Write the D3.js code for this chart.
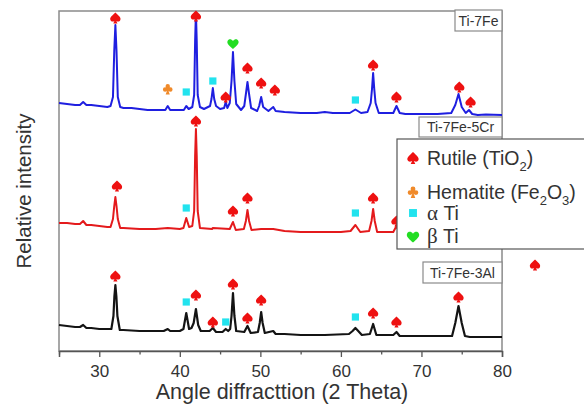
<!DOCTYPE html>
<html><head><meta charset="utf-8">
<script src="https://cdn.jsdelivr.net/npm/d3@7"></script>
<style>body{margin:0;background:#fff}svg{display:block}</style>
</head><body>
<svg id="c" width="584" height="409"></svg>
<script>
// ---- data (2θ in degrees, relative intensity in arbitrary units) ----
const xTicks = [30, 40, 50, 60, 70, 80];
const xMinorTicks = [25, 35, 45, 55, 65, 75];
const seriesNames = ["Ti-7Fe", "Ti-7Fe-5Cr", "Ti-7Fe-3Al"];

const ti7Fe = [[25,248],[26,247],[27,246],[27.6,246],[28,249],[28.4,246],[29,246],[30,245],[31,244],[31.4,245],[31.7,254],[31.86,300],[32,326],[32.14,300],[32.3,254],[32.6,244],[33,243],[34,243],[35,242],[36,241],[37,241],[38.2,241],[38.5,245],[38.8,241],[39.5,241],[40.5,241],[40.8,245],[41.1,242],[41.55,244],[41.78,256],[41.9,310],[42,339],[42.1,310],[42.22,256],[42.5,244],[43,242],[43.75,245],[43.93,252],[44.1,263],[44.27,252],[44.5,245],[45,242],[45.5,243],[45.7,249],[45.9,243],[46.2,248],[46.42,270],[46.6,299],[46.78,270],[47,247],[47.6,241],[48,245],[48.22,258],[48.4,269],[48.58,258],[48.85,243],[49.6,240],[49.85,245],[50.1,254],[50.35,244],[51,240],[51.3,242],[51.6,244],[51.9,240],[53,239],[55,238],[57,238],[58,239],[59,238],[61.1,238],[61.8,241.5],[62.5,238],[63.3,239],[63.7,248],[63.86,262],[64,278],[64.14,262],[64.3,248],[64.7,238],[66.5,238],[66.9,245],[67.3,238],[68,237],[70,237],[72,237],[73.7,238],[74.2,246],[74.6,257],[75,244],[75.5,238],[75.9,241],[76.3,237],[77,236],[78,236.5],[80,236]];

const ti7Fe5Cr = [[25,128],[26,128],[27,127],[27.6,127],[28,130],[28.4,126],[29,126],[30,125],[31,124],[31.4,124],[31.7,132],[31.86,145],[32,154],[32.14,145],[32.3,132],[32.6,123],[33,123],[35,122],[37,122],[38.5,123],[40,122],[40.45,123],[40.8,133],[41.15,124],[41.55,125],[41.78,140],[41.9,195],[42,222],[42.1,195],[42.22,140],[42.5,123],[44,122],[44.1,123],[46.2,122],[46.6,129],[46.95,121],[47.95,122],[48.2,130],[48.4,141],[48.6,130],[48.9,121],[50.1,122],[51.6,122],[53,120],[55,119],[58,119],[60,119],[61.2,120],[61.8,126],[62.4,119],[63.5,120],[63.8,130],[64,142],[64.2,130],[64.5,119],[66.5,119],[66.9,125],[67.3,118],[70,118],[74.1,119],[74.6,136],[75.1,119],[75.9,124],[76.3,118],[80,118]];

const ti7Fe3Al = [[25,26],[26,25],[27,24],[27.6,24],[28,26],[28.4,23],[29,23],[30,22],[31,22],[31.5,22],[31.76,35],[31.88,55],[32,66],[32.12,55],[32.25,35],[32.55,21],[33,21],[35,20],[38,20],[38.5,22],[38.8,20],[40,20],[40.45,22],[40.8,38],[41.15,22],[41.45,23],[41.72,28],[42,42],[42.28,26],[42.6,20],[43.7,20],[44.1,23],[44.5,19],[45.3,19],[45.7,22],[46,20],[46.25,22],[46.42,35],[46.6,58],[46.78,35],[47,20],[48,19],[48.4,25],[48.8,18],[49.7,19],[49.92,28],[50.1,39],[50.28,28],[50.55,18],[51.6,20],[51.9,17],[53,17],[55,16],[58,16],[61,17],[61.45,20],[61.8,23],[62.15,20],[62.6,16],[63.6,17],[64,27],[64.4,16],[66.5,16],[66.9,19],[67.3,15],[70,15],[73.8,15],[74.2,28],[74.6,45],[75,28],[75.4,15],[76,14],[80,14]];

// phase markers: [phase, 2θ, intensity]  R=Rutile, H=Hematite, A=αTi, B=βTi
const markers7Fe = [["R",32,333],["R",42,335],["H",38.5,262],["A",40.8,259],["A",44.1,270],["R",45.7,254],["B",46.6,308],["R",48.4,283],["R",50.1,268],["R",51.8,261],["A",61.8,251],["R",64,286],["R",66.9,254],["R",74.7,264],["R",76.1,249]];
const markers5Cr = [["R",32.2,165],["A",40.8,143],["R",42,230],["R",46.6,140],["R",48.4,153],["A",61.8,138],["R",64,153],["R",66.9,130]];
const markers3Al = [["R",32,75],["A",40.8,49],["R",42,56],["R",44.1,29],["A",45.7,29],["R",46.6,67],["R",48.4,33],["R",50.1,51],["A",61.8,34],["R",64,38],["R",66.9,29],["R",74.6,54],["R",84.1,86]];

const legendItems = [["R","Rutile (TiO","2",")"],["H","Hematite (Fe","2","O","3",")"],["A","α"," Ti"],["B","β"," Ti"]];

// ---- layout ----
const svg = d3.select("#c");
const L = 59, T = 11, R = 502, B = 351;
const x = d3.scaleLinear().domain([25, 80]).range([L, R]);
const y = d3.scaleLinear().domain([0, 340]).range([B, T]);
const font = "'Liberation Sans', Arial, sans-serif";

const colors = {R:"#ee1111", H:"#f08a2a", A:"#22e3ee", B:"#22dd22"};

// custom glyph symbols (size = radius in px)
const spade = {draw(c, r){
  c.moveTo(0,-r);
  c.bezierCurveTo(0.5*r,-0.5*r,1.1*r,-0.1*r,0.9*r,0.35*r);
  c.bezierCurveTo(0.75*r,0.75*r,0.25*r,0.7*r,0,0.35*r);
  c.bezierCurveTo(-0.25*r,0.7*r,-0.75*r,0.75*r,-0.9*r,0.35*r);
  c.bezierCurveTo(-1.1*r,-0.1*r,-0.5*r,-0.5*r,0,-r);
  c.closePath();
  c.moveTo(0,0.2*r); c.lineTo(0.38*r,r); c.lineTo(-0.38*r,r); c.closePath();
}};
const heart = {draw(c, r){
  c.moveTo(0,r);
  c.bezierCurveTo(0.5*r,0.5*r,1.1*r,0.1*r,0.9*r,-0.35*r);
  c.bezierCurveTo(0.75*r,-0.75*r,0.25*r,-0.7*r,0,-0.35*r);
  c.bezierCurveTo(-0.25*r,-0.7*r,-0.75*r,-0.75*r,-0.9*r,-0.35*r);
  c.bezierCurveTo(-1.1*r,0.1*r,-0.5*r,0.5*r,0,r);
  c.closePath();
}};
const club = {draw(c, r){
  const k = 0.4*r;
  [[0,-0.5*r],[-0.48*r,0.1*r],[0.48*r,0.1*r]].forEach(([cx,cy])=>{
    c.moveTo(cx+k,cy); c.arc(cx,cy,k,0,2*Math.PI);
  });
  c.moveTo(-0.3*r,-0.2*r); c.lineTo(0.3*r,-0.2*r); c.lineTo(0.3*r,0.3*r); c.lineTo(-0.3*r,0.3*r); c.closePath();
  c.moveTo(0,0); c.lineTo(0.38*r,r); c.lineTo(-0.38*r,r); c.closePath();
}};
const square = {draw(c, r){ c.rect(-r,-r,2*r,2*r); }};
const symType = {R:[spade,5.5], H:[club,5.5], A:[square,3.6], B:[heart,6]};
const sym = (p, s) => d3.symbol().type(symType[p][0]).size(symType[p][1]*(s||1))();

// frame
svg.append("rect").attr("x",L).attr("y",T).attr("width",R-L).attr("height",B-T)
  .attr("fill","none").attr("stroke","#8a8a8a").attr("stroke-width",1.5);

// axis
const ax = svg.append("g").attr("transform",`translate(0,${B})`)
  .call(d3.axisBottom(x).tickValues(xTicks).tickSize(6).tickFormat(d3.format("d")));
ax.select(".domain").attr("stroke","#555").attr("stroke-width",1.5);
ax.selectAll(".tick line").attr("stroke","#555").attr("stroke-width",1.3);
ax.selectAll("text").attr("font-family",font).attr("font-size",17).attr("fill","#333").attr("dy","1.0em");
const ax2 = svg.append("g").attr("transform",`translate(0,${B})`)
  .call(d3.axisBottom(x).tickValues(xMinorTicks).tickSize(3.5).tickFormat(""));
ax2.select(".domain").remove();
ax2.selectAll(".tick line").attr("stroke","#555").attr("stroke-width",1.3);

// lines
const line = d3.line().x(d=>x(d[0])).y(d=>y(d[1]));
[[ti7Fe,"#1f1fe0",2],[ti7Fe5Cr,"#e41a1c",2],[ti7Fe3Al,"#141414",2.2]].forEach(([d,c,w])=>{
  svg.append("path").datum(d).attr("d",line).attr("fill","none")
    .attr("stroke",c).attr("stroke-width",w).attr("stroke-linejoin","round");
});

// markers
[markers7Fe, markers5Cr, markers3Al].forEach(ms=>{
  svg.append("g").selectAll("path").data(ms).join("path")
    .attr("transform",d=>`translate(${x(d[1])},${y(d[2])})`)
    .attr("d",d=>sym(d[0])).attr("fill",d=>colors[d[0]]);
});

// series label boxes
const labelBoxes = [[seriesNames[0],455,10,47,21],[seriesNames[1],419,117,83,20],[seriesNames[2],423,262,79,21]];
labelBoxes.forEach(([t,bx,by,bw,bh])=>{
  svg.append("rect").attr("x",bx).attr("y",by).attr("width",bw).attr("height",bh)
    .attr("fill","#fff").attr("stroke","#8a8a8a").attr("stroke-width",1.2);
  svg.append("text").attr("x",bx+bw/2).attr("y",by+bh/2+5).attr("text-anchor","middle")
    .attr("font-family",font).attr("font-size",14).attr("fill","#333").text(t);
});

// legend
const lg = svg.append("g");
lg.append("rect").attr("x",397).attr("y",139).attr("width",200).attr("height",110)
  .attr("fill","#fff").attr("stroke","#555").attr("stroke-width",1.2);
const rowY = [158, 192, 213, 236];
legendItems.forEach((it,i)=>{
  lg.append("path").attr("transform",`translate(413,${rowY[i]})`).attr("d",sym(it[0],1.1)).attr("fill",colors[it[0]]);
  const t = lg.append("text").attr("x",427).attr("y",rowY[i]+7).attr("font-family",font)
    .attr("font-size",19.5).attr("fill","#333");
  if (it[0]==="R"){
    t.append("tspan").text(it[1]);
    t.append("tspan").attr("font-size",13).attr("dy",6).text(it[2]);
    t.append("tspan").attr("dy",-6).text(it[3]);
  } else if (it[0]==="H"){
    t.append("tspan").text(it[1]);
    t.append("tspan").attr("font-size",13).attr("dy",6).text(it[2]);
    t.append("tspan").attr("dy",-6).text(it[3]);
    t.append("tspan").attr("font-size",13).attr("dy",6).text(it[4]);
    t.append("tspan").attr("dy",-6).text(it[5]);
  } else {
    t.append("tspan").attr("font-family","'Liberation Serif', serif").attr("font-size",21).text(it[1]);
    t.append("tspan").text(it[2]);
  }
});

// axis titles
svg.append("text").attr("x",282).attr("y",399).attr("text-anchor","middle")
  .attr("font-family",font).attr("font-size",21.5).attr("fill","#333").text("Angle diffracttion (2 Theta)");
svg.append("text").attr("transform","translate(31,191) rotate(-90)").attr("text-anchor","middle")
  .attr("font-family",font).attr("font-size",20.5).attr("fill","#333").text("Relative intensity");
</script>
</body></html>
